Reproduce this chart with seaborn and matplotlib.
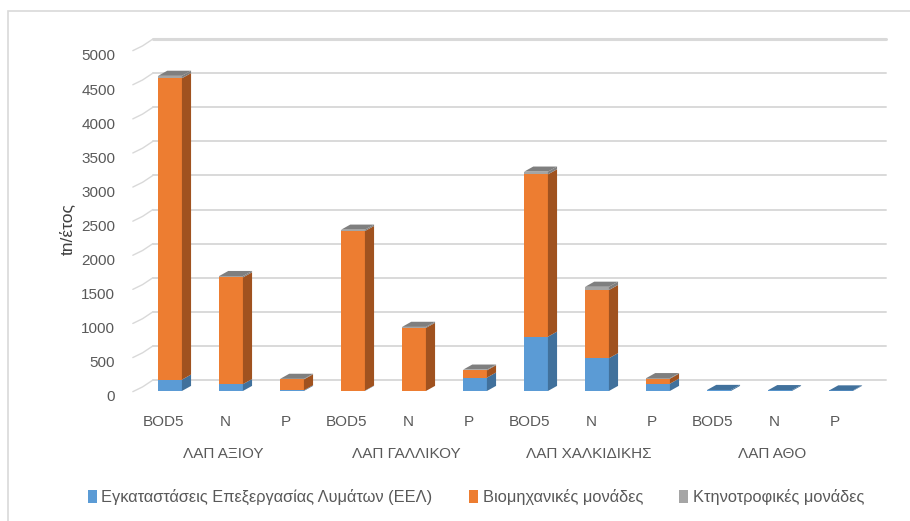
import numpy as np
import pandas as pd
import matplotlib.pyplot as plt
import matplotlib.transforms as mtransforms
from matplotlib.patches import Patch, Rectangle
import seaborn as sns

# data (tn/year)
plants = ['ΛΑΠ ΑΞΙΟΥ', 'ΛΑΠ ΓΑΛΛΙΚΟΥ', 'ΛΑΠ ΧΑΛΚΙΔΙΚΗΣ', 'ΛΑΠ ΑΘΟ']
params = ['BOD5', 'N', 'P']
eel = [166, 100, 10, 5, 0, 196, 796, 480, 107, 15, 12, 8]
industry = [4420, 1565, 160, 2340, 925, 107, 2380, 1000, 73, 0, 0, 0]
livestock = [35, 20, 8, 20, 15, 10, 40, 48, 8, 0, 0, 0]
series_names = ['Εγκαταστάσεις Επεξεργασίας Λυμάτων (ΕΕΛ)',
                'Βιομηχανικές μονάδες', 'Κτηνοτροφικές μονάδες']
yticks = list(range(0, 5001, 500))

front = ['#5B9BD5', '#ED7D31', '#A5A5A5']
side = ['#41719C', '#A0521F', '#7F7F7F']
top_col = ['#41719C', '#B05D24', '#7F7F7F']
grid_col = '#D9D9D9'
txt_col = '#595959'

df = pd.DataFrame({
    'pos': np.arange(12),
    'plant': np.repeat(plants, 3),
    'param': params * 4,
    'eel': eel, 'industry': industry, 'livestock': livestock,
})
df['c1'] = df.eel
df['c2'] = df.eel + df.industry
df['c3'] = df.c2 + df.livestock

sns.set_theme(style='white')
plt.rcParams['font.family'] = ['Liberation Sans', 'DejaVu Sans']

fig = plt.figure(figsize=(9.1, 5.21), dpi=100)
ax = fig.add_axes([125 / 910, 1 - 400 / 521, 775 / 910, 370 / 521])

# chart border
fig.patches.append(Rectangle((8 / 910, -0.1), 1.2, 1 - 10.7 / 521 + 0.1,
                             transform=fig.transFigure, fill=False,
                             edgecolor=grid_col, lw=1.2, zorder=0))

width = 0.39
dx, dy = 0.15, 75      # fake depth of the 3d columns
back = 161             # back wall offset

# back wall gridlines and side wall strokes
for v in yticks:
    ax.plot([-0.28, 11.74], [v + back, v + back], color=grid_col,
            lw=2.2 if v == yticks[-1] else 1.4, zorder=0)
    ax.plot([-0.61, -0.45, -0.28], [v - 10, v + 60, v + back],
            color=grid_col, lw=1.0, zorder=0)

# stacked front faces
for col, c in zip(['c3', 'c2', 'c1'], front[::-1]):
    sns.barplot(data=df, x='pos', y=col, color=c, saturation=1,
                width=width, linewidth=0, ax=ax, zorder=2)

# side and top faces
for i, r in df.iterrows():
    xl, xr = r.pos - width / 2, r.pos + width / 2
    bounds = [0, r.c1, r.c2, r.c3]
    last = 0
    for k in range(3):
        y0, y1 = bounds[k], bounds[k + 1]
        if y1 > y0:
            ax.fill([xr, xr + dx, xr + dx, xr], [y0, y0 + dy, y1 + dy, y1],
                    color=side[k], lw=0, zorder=2)
            last = k
    t = r.c3
    ax.fill([xl, xl + dx, xr + dx, xr], [t, t + dy, t + dy, t],
            color=top_col[last], lw=0, zorder=2)

ax.set_xlim(-0.738, 11.967)
ax.set_ylim(-132, 5293)
sns.despine(ax=ax, left=True, bottom=True, top=True, right=True)
ax.set_xlabel('')
ax.set_ylabel('')

ax.set_yticks(yticks)
ax.set_yticklabels([str(v) for v in yticks], color=txt_col, fontsize=11)
ax.tick_params(axis='y', length=0, pad=7)
shift = mtransforms.ScaledTranslation(0, -5 / 100, fig.dpi_scale_trans)
for lab in ax.get_yticklabels():
    lab.set_transform(lab.get_transform() + shift)

ax.set_xticks(df.pos - 0.1)
ax.set_xticklabels(df.param, color=txt_col, fontsize=11)
ax.tick_params(axis='x', length=0, pad=11)

trans = mtransforms.blended_transform_factory(ax.transData, ax.transAxes)
for g, name in enumerate(plants):
    ax.text(g * 3 + 1 - 0.13, -54 / 370, name, transform=trans, ha='center',
            va='center', color=txt_col, fontsize=11)

fig.text(67 / 910, 1 - 229 / 521, 'tn/έτος', rotation=90, ha='center',
         va='center', color='#404040', fontsize=12.5)

handles = [Patch(facecolor=c, edgecolor='none') for c in front]
fig.legend(handles, series_names, loc='center', bbox_to_anchor=(0.523, 0.046),
           ncol=3, frameon=False, fontsize=11.8, labelcolor=txt_col,
           handlelength=0.55, handleheight=0.9, handletextpad=0.3,
           columnspacing=2.2)

fig.savefig('out.png', dpi=100)
